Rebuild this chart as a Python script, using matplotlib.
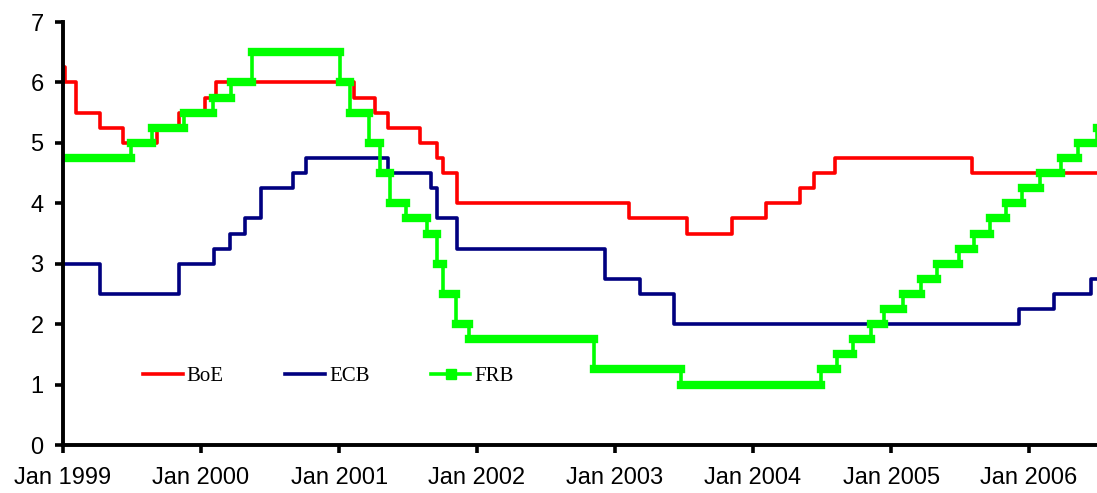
import numpy as np
import matplotlib
matplotlib.use("Agg")
import matplotlib.pyplot as plt
import matplotlib.dates as mdates
from matplotlib.lines import Line2D

# policy rate change dates and new levels (%)
boe_dates = ["1998-12-10", "1999-01-07", "1999-02-04", "1999-04-08", "1999-06-10",
             "1999-09-08", "1999-11-04", "2000-01-13", "2000-02-10", "2001-02-08",
             "2001-04-05", "2001-05-10", "2001-08-02", "2001-09-18", "2001-10-04",
             "2001-11-08", "2003-02-06", "2003-07-10", "2003-11-06", "2004-02-05",
             "2004-05-06", "2004-06-10", "2004-08-05", "2005-08-04"]
boe_rates = [6.25, 6.00, 5.50, 5.25, 5.00, 5.25, 5.50, 5.75, 6.00, 5.75,
             5.50, 5.25, 5.00, 4.75, 4.50, 4.00, 3.75, 3.50, 3.75, 4.00,
             4.25, 4.50, 4.75, 4.50]

ecb_dates = ["1999-01-01", "1999-04-09", "1999-11-05", "2000-02-04", "2000-03-17",
             "2000-04-28", "2000-06-09", "2000-09-01", "2000-10-06", "2001-05-11",
             "2001-08-31", "2001-09-18", "2001-11-09", "2002-12-06", "2003-03-07",
             "2003-06-06", "2005-12-06", "2006-03-08", "2006-06-15"]
ecb_rates = [3.00, 2.50, 3.00, 3.25, 3.50, 3.75, 4.25, 4.50, 4.75, 4.50,
             4.25, 3.75, 3.25, 2.75, 2.50, 2.00, 2.25, 2.50, 2.75]

frb_dates = ["1998-11-17", "1999-06-30", "1999-08-24", "1999-11-16", "2000-02-02",
             "2000-03-21", "2000-05-16", "2001-01-03", "2001-01-31", "2001-03-20",
             "2001-04-18", "2001-05-15", "2001-06-27", "2001-08-21", "2001-09-17",
             "2001-10-02", "2001-11-06", "2001-12-11", "2002-11-06", "2003-06-25",
             "2004-06-30", "2004-08-10", "2004-09-21", "2004-11-10", "2004-12-14",
             "2005-02-02", "2005-03-22", "2005-05-03", "2005-06-30", "2005-08-09",
             "2005-09-20", "2005-11-01", "2005-12-13", "2006-01-31", "2006-03-28",
             "2006-05-10", "2006-06-29"]
frb_rates = [4.75, 5.00, 5.25, 5.50, 5.75, 6.00, 6.50, 6.00, 5.50, 5.00,
             4.50, 4.00, 3.75, 3.50, 3.00, 2.50, 2.00, 1.75, 1.25, 1.00,
             1.25, 1.50, 1.75, 2.00, 2.25, 2.50, 2.75, 3.00, 3.25, 3.50,
             3.75, 4.00, 4.25, 4.50, 4.75, 5.00, 5.25]

start = np.datetime64("1999-01-01")
end = np.datetime64("2006-06-30")

RED = "#ff0000"
NAVY = "#000080"
GREEN = "#00ff00"


def step_xy(dates, rates):
    d = np.array(dates, dtype="datetime64[D]")
    x = np.append(d, end + np.timedelta64(10, "D"))
    y = np.append(rates, rates[-1])
    return x, y


fig = plt.figure(figsize=(10.97, 4.93), dpi=100)
ax = fig.add_axes([63 / 1097, 48 / 493, 1034 / 1097, 423 / 493])

x, y = step_xy(boe_dates, boe_rates)
ax.step(x, y, where="post", color=RED, lw=2.6, zorder=2)

x, y = step_xy(ecb_dates, ecb_rates)
ax.step(x, y, where="post", color=NAVY, lw=2.6, zorder=3)

x, y = step_xy(frb_dates, frb_rates)
ax.step(x, y, where="post", color=GREEN, lw=2.6, zorder=4)
# the marker band on each flat stretch
ax.hlines(y[:-1], x[:-1], x[1:], colors=GREEN, linewidth=6,
          capstyle="projecting", zorder=5)

ax.set_xlim(start, end)
ax.set_ylim(0, 7)
ax.set_yticks(range(0, 8))

ax.xaxis.set_major_locator(mdates.YearLocator())
ax.xaxis.set_major_formatter(mdates.DateFormatter("%b %Y"))

for s in ["top", "right"]:
    ax.spines[s].set_visible(False)
for s in ["left", "bottom"]:
    ax.spines[s].set_linewidth(2.8)
    ax.spines[s].set_zorder(6)

ax.tick_params(axis="both", direction="out", length=6, width=2.6,
               labelsize=17)
for lab in ax.get_xticklabels() + ax.get_yticklabels():
    lab.set_family("Liberation Sans")
ax.tick_params(axis="x", pad=10)
ax.tick_params(axis="y", pad=8)

handles = [Line2D([], [], color=RED, lw=2.6),
           Line2D([], [], color=NAVY, lw=2.6),
           Line2D([], [], color=GREEN, lw=2.6, marker="s", markersize=7)]
leg = ax.legend(handles, ["BoE", "ECB", "FRB"], ncol=3, frameon=False,
                loc="center left", bbox_to_anchor=(80 / 1034, 69 / 423),
                borderaxespad=0, borderpad=0, handlelength=1.9,
                handletextpad=0.2, columnspacing=2.95,
                prop={"family": "Liberation Serif", "size": 15})

fig.savefig("out.png", dpi=100)
